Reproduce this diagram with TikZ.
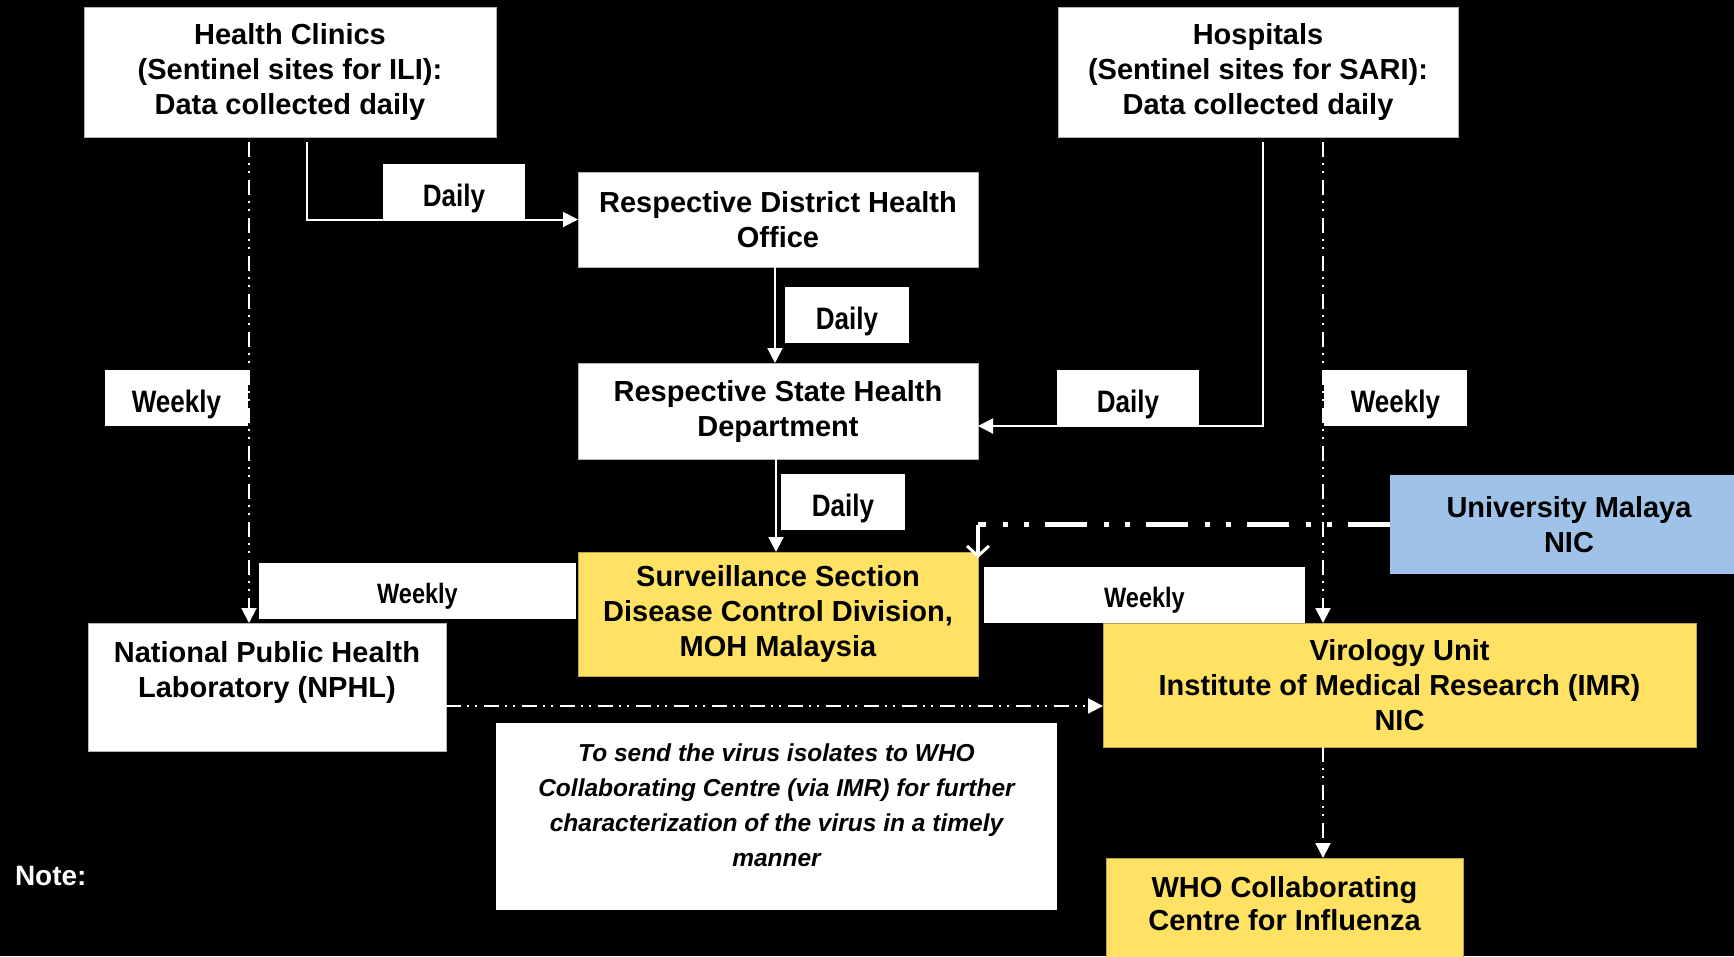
\documentclass[tikz,border=0pt]{standalone}
\usepackage{fontspec}
\setmainfont{Liberation Sans}
\newfontfamily\narrowfont[FakeStretch=0.84]{Liberation Sans}
\usetikzlibrary{arrows.meta,calc}
\definecolor{boxyellow}{HTML}{FFE164}
\definecolor{boxyellowline}{HTML}{B9A24A}
\definecolor{boxblue}{HTML}{9FC3E8}
\begin{document}
\begin{tikzpicture}[x=1pt,y=-1pt,
  every node/.style={inner sep=0pt, outer sep=0pt},
  mainfont/.style={font=\bfseries\fontsize{29}{35}\selectfont},
  wbox/.style={draw=black!30, line width=1pt, fill=white, anchor=north west, align=center, text=black, mainfont},
  ybox/.style={wbox, fill=boxyellow, draw=boxyellowline},
  bbox/.style={wbox, fill=boxblue, draw=none},
  toptext/.style={anchor=north, align=center, text=black, mainfont},
  notetext/.style={anchor=north, yshift=-21pt, align=center, text=black, font=\bfseries\itshape\fontsize{24.5}{35}\selectfont},
  lbl/.style={fill=white, anchor=north west, text=black, font=\narrowfont\bfseries\fontsize{31}{35}\selectfont, text height=28pt, text depth=0pt},
  lbls/.style={lbl, font=\narrowfont\bfseries\fontsize{28}{35}\selectfont, text height=24pt},
  conn/.style={draw=white, line width=2pt, -{Triangle[length=15pt,width=15pt]}},
  dd/.style={conn, dash pattern=on 15pt off 6pt on 2pt off 6pt on 2pt off 7pt},
  umline/.style={draw=white, line width=4.5pt, dash pattern=on 42pt off 16pt on 5pt off 16pt on 5pt off 17pt},
  umarrow/.style={draw=white, line width=4pt, -{Straight Barb[length=10pt,width=22pt,line width=3pt]}}
]
\useasboundingbox (0,0) rectangle (1734,956);
\clip (0,0) rectangle (1734,956);
\fill[black] (0,0) rectangle (1734,956);

% boxes
\node[wbox, minimum width=412pt, minimum height=130pt] (clinics) at (84,7)
  {Health Clinics\\(Sentinel sites for ILI):\\Data collected daily};
\node[wbox, minimum width=400pt, minimum height=130pt] (hosp) at (1058,7)
  {Hospitals\\(Sentinel sites for SARI):\\Data collected daily};
\node[wbox, minimum width=400pt, minimum height=95pt] (district) at (578,172)
  {Respective District Health\\Office};
\node[wbox, minimum width=400pt, minimum height=96pt] (state) at (578,363)
  {Respective State Health\\Department};
\node[ybox, minimum width=400pt, minimum height=124pt] (surv) at (578,552)
  {Surveillance Section\\Disease Control Division,\\MOH Malaysia};
\node[wbox, minimum width=358pt, minimum height=128pt,
  label={[toptext, yshift=-18pt]north:{National Public Health\\Laboratory (NPHL)}}] (nphl) at (88,623) {};
\node[ybox, minimum width=593pt, minimum height=124pt] (vir) at (1103,623)
  {Virology Unit\\Institute of Medical Research (IMR)\\NIC};
\node[ybox, minimum width=357pt, minimum height=115pt,
  label={[toptext, yshift=-18pt, font=\bfseries\fontsize{29}{33}\selectfont]north:{WHO Collaborating\\Centre for Influenza}}] (who) at (1106,858) {};
\node[bbox, minimum width=358pt, minimum height=99pt] (um) at (1390,475)
  {University Malaya\\NIC};
\node[wbox, draw=none, minimum width=561pt, minimum height=187pt,
  label={[notetext]north:{To send the virus isolates to WHO\\Collaborating Centre (via IMR) for further\\characterization of the virus in a timely\\manner}}] (note) at (496,723) {};
\node[anchor=west, text=white, font=\bfseries\fontsize{28}{35}\selectfont, text height=20pt, text depth=0pt] (notelbl) at (15,875) {Note:};

% frequency labels
\node[lbl, minimum width=142pt, minimum height=56pt] (d1) at (383,164) {Daily};
\node[lbl, minimum width=124pt, minimum height=56pt] (d2) at (785,287) {Daily};
\node[lbl, minimum width=142pt, minimum height=56pt] (d3) at (1057,370) {Daily};
\node[lbl, minimum width=143pt, minimum height=56pt] (wl) at (105,370) {Weekly};
\node[lbl, minimum width=143pt, minimum height=56pt] (wr) at (1324,370) {Weekly};
\node[lbl, minimum width=124pt, minimum height=56pt] (d4) at (781,474) {Daily};
\node[lbls, minimum width=317pt, minimum height=56pt] (wbl) at (259,563) {Weekly};
\node[lbls, minimum width=321pt, minimum height=56pt] (wbr) at (984,567) {Weekly};

% solid connectors
\coordinate (cs) at ($(clinics.south)+(17,5)$);
\draw[conn] (cs) |- (district.west);
\draw[conn] ([xshift=-3pt]district.south) -- ([xshift=-3pt]state.north);
\draw[conn] ([xshift=-2pt]state.south) -- ([xshift=-2pt]surv.north);
\coordinate (hs) at ($(hosp.south)+(5,5)$);
\draw[conn] (hs) |- ([yshift=-15pt]state.east);

% dash-dot connectors
\coordinate (cl1) at ($(clinics.south west)+(165,5)$);
\draw[dd] (cl1) -- (cl1 |- nphl.north);
\coordinate (hs2) at ($(hosp.south west)+(265,5)$);
\draw[dd] (hs2) -- (hs2 |- vir.north);
\coordinate (np) at ($(nphl.north east)+(0,83)$);
\draw[dd] (np) -- (np -| vir.west);
\coordinate (vw) at ($(vir.south west)+(220,0)$);
\draw[dd] (vw) -- (vw |- who.north);

% University Malaya link
\coordinate (umc) at (surv.north east |- um.west);
\draw[umline] (um.west) -- (umc);
\draw[umarrow] (umc) -- ([yshift=-6pt]surv.north east);
\end{tikzpicture}
\end{document}
